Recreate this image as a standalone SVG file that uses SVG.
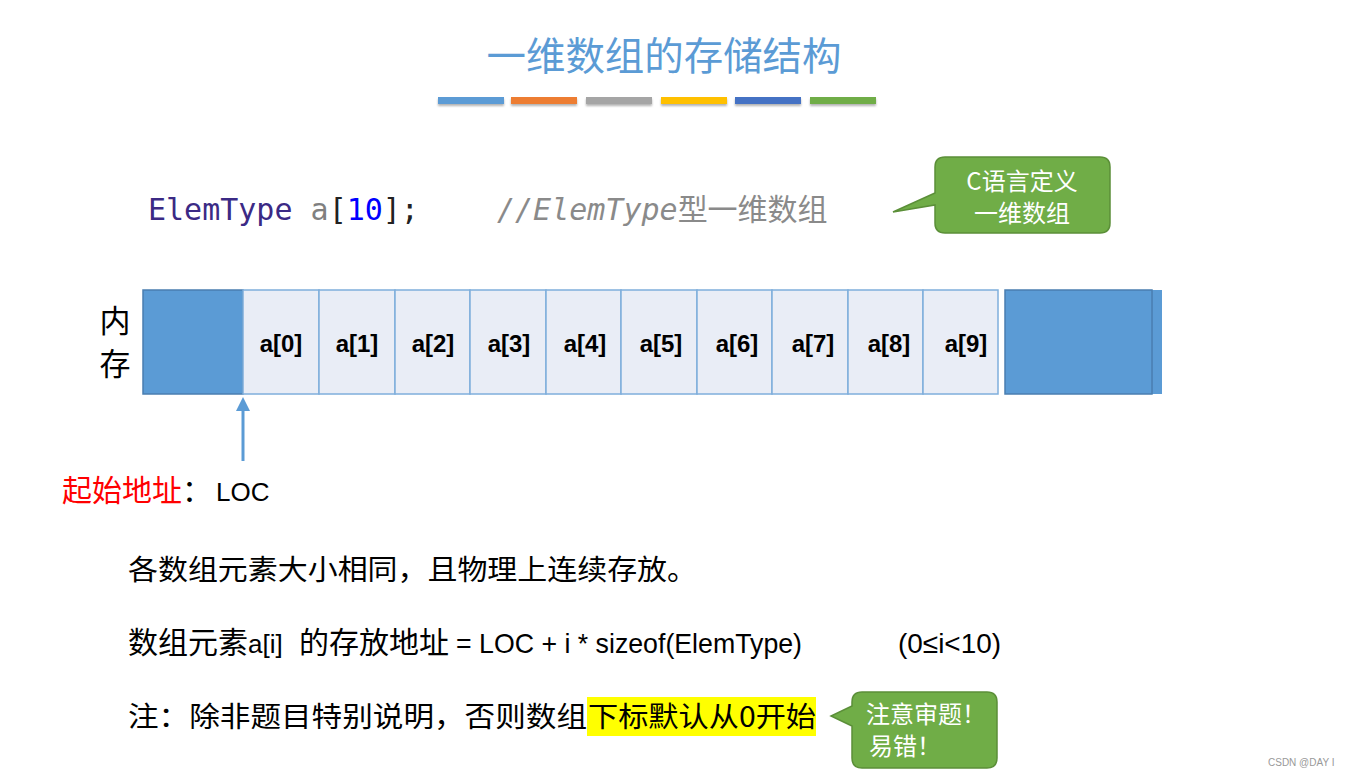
<svg xmlns="http://www.w3.org/2000/svg" width="1351" height="776" viewBox="0 0 1351 776">
<style>
.mono{font-family:"DejaVu Sans Mono","Noto Sans CJK SC",monospace;font-size:30px}
.cell{fill:#E9EDF6;stroke:#7FAEDC;stroke-width:1.5}
.blk{fill:#5B9BD5;stroke:#4A7EB0;stroke-width:1.5}
.lbl{font-family:"Liberation Sans",sans-serif;font-weight:bold;font-size:24px;fill:#000;text-anchor:middle}
.callout{fill:#70AD47;stroke:#5B8F38;stroke-width:1.5}
.ctext{font-family:"Noto Sans CJK SC",sans-serif;font-size:24px;fill:#fff;text-anchor:middle}
.body{font-family:"Liberation Sans","Noto Sans CJK SC",sans-serif;font-size:28px;fill:#000}
.cjk{font-family:"Noto Sans CJK SC",sans-serif}
</style>
<defs>
<filter id="sh" x="-10%" y="-50%" width="120%" height="250%"><feDropShadow dx="0" dy="2" stdDeviation="1.2" flood-color="#000" flood-opacity="0.3"/></filter>
</defs>
<rect width="1351" height="776" fill="#fff"/>
<g id="title">
<text x="664" y="70" text-anchor="middle" font-family="Noto Sans CJK SC,sans-serif" font-size="39" fill="#5B9BD5" textLength="355" lengthAdjust="spacingAndGlyphs">一维数组的存储结构</text>
<g filter="url(#sh)">
<rect x="438" y="97" width="66" height="7" fill="#5B9BD5"/>
<rect x="511" y="97" width="66" height="7" fill="#ED7D31"/>
<rect x="586" y="97" width="66" height="7" fill="#A5A5A5"/>
<rect x="661" y="97" width="66" height="7" fill="#FFC000"/>
<rect x="735" y="97" width="66" height="7" fill="#4472C4"/>
<rect x="810" y="97" width="66" height="7" fill="#70AD47"/>
</g>
</g>
<g id="code">
<text class="mono" x="148" y="220"><tspan fill="#3B2A85">ElemType</tspan><tspan fill="#808080"> a</tspan><tspan fill="#222">[</tspan><tspan fill="#0000FF">10</tspan><tspan fill="#222">];</tspan></text>
<text class="mono" x="497" y="220" fill="#8A8A8A"><tspan font-style="italic">//ElemType</tspan><tspan class="cjk">型一维数组</tspan></text>
</g>
<g id="callout1">
<path class="callout" d="M945,157 H1100 Q1110,157 1110,167 V223 Q1110,233 1100,233 H945 Q935,233 935,223 V205 L893,212 L935,193 V167 Q935,157 945,157 Z"/>
<text class="ctext" x="1022" y="190">C语言定义</text>
<text class="ctext" x="1022" y="222">一维数组</text>
</g>
<g id="memory-label">
<text x="115" y="332" text-anchor="middle" class="cjk" font-size="31" fill="#000">内</text>
<text x="115" y="375" text-anchor="middle" class="cjk" font-size="31" fill="#000">存</text>
</g>
<g id="memory">
<rect class="blk" x="143" y="290" width="100" height="104"/>
<rect x="1005" y="290" width="157" height="104" fill="#5B9BD5"/>
<rect class="blk" x="1005" y="290" width="147" height="104"/>
</g>
<g id="cells">
<rect class="cell" x="243" y="290" width="76" height="104"/><text class="lbl" x="281" y="352">a[0]</text>
<rect class="cell" x="319" y="290" width="76" height="104"/><text class="lbl" x="357" y="352">a[1]</text>
<rect class="cell" x="395" y="290" width="75" height="104"/><text class="lbl" x="433" y="352">a[2]</text>
<rect class="cell" x="470" y="290" width="76" height="104"/><text class="lbl" x="509" y="352">a[3]</text>
<rect class="cell" x="546" y="290" width="75" height="104"/><text class="lbl" x="585" y="352">a[4]</text>
<rect class="cell" x="621" y="290" width="76" height="104"/><text class="lbl" x="661" y="352">a[5]</text>
<rect class="cell" x="697" y="290" width="75" height="104"/><text class="lbl" x="737" y="352">a[6]</text>
<rect class="cell" x="772" y="290" width="76" height="104"/><text class="lbl" x="813" y="352">a[7]</text>
<rect class="cell" x="848" y="290" width="75" height="104"/><text class="lbl" x="889" y="352">a[8]</text>
<rect class="cell" x="923" y="290" width="75" height="104"/><text class="lbl" x="966" y="352">a[9]</text>
</g>
<g id="connectors">
<line x1="243" y1="461" x2="243" y2="408" stroke="#5B9BD5" stroke-width="3"/>
<polygon points="243,397 236,411 250,411" fill="#5B9BD5"/>
</g>
<g id="loc-label">
<text x="62" y="501" class="body"><tspan fill="#FF0000" class="cjk" font-size="30">起始地址</tspan><tspan class="cjk" font-size="30">：</tspan><tspan x="216" font-size="26">LOC</tspan></text>
</g>
<g id="notes">
<text class="body cjk" x="128" y="580" textLength="569" lengthAdjust="spacingAndGlyphs">各数组元素大小相同，且物理上连续存放。</text>
<text class="body" y="653"><tspan x="128" class="cjk" font-size="30">数组元素</tspan><tspan x="248" font-size="26">a[i]</tspan><tspan x="299" class="cjk" font-size="30">的存放地址</tspan></text>
<text class="body" x="456" y="653" font-size="26" textLength="346" lengthAdjust="spacingAndGlyphs">= LOC + i * sizeof(ElemType)</text>
<text class="body" x="898" y="653" font-size="26" textLength="103" lengthAdjust="spacingAndGlyphs">(0≤i&lt;10)</text>
<rect x="587" y="697" width="229" height="39" fill="#FFFF00"/>
<text class="body cjk" x="128" y="727" textLength="459" lengthAdjust="spacingAndGlyphs">注：除非题目特别说明，否则数组</text>
<text class="body cjk" x="588" y="727" textLength="228" lengthAdjust="spacingAndGlyphs">下标默认从0开始</text>
</g>
<g id="callout2">
<path class="callout" d="M862,692 H987 Q997,692 997,702 V758 Q997,768 987,768 H862 Q852,768 852,758 V726 L831,716 L852,706 V702 Q852,692 862,692 Z"/>
<text class="ctext" x="926" y="723">注意审题！</text>
<text class="ctext" x="905" y="755">易错！</text>
</g>
<text x="1268" y="766" font-family="Liberation Sans,sans-serif" font-size="10" fill="#999">CSDN @DAY  I</text>
</svg>
